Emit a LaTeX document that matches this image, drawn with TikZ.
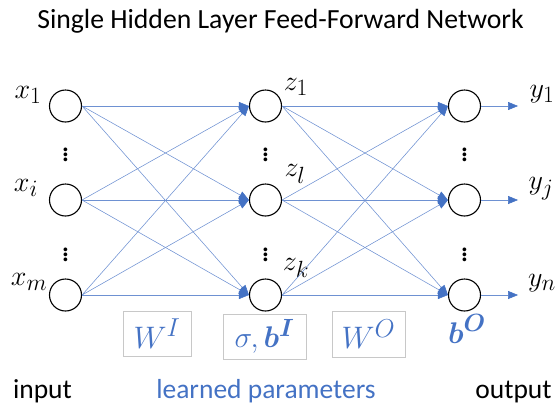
\documentclass[tikz,border=0pt]{standalone}
\usepackage{amsmath}
\usepackage{graphicx}
\usepackage{fontspec}
\setmainfont{Carlito}
\usetikzlibrary{arrows.meta,calc}
\definecolor{bl}{RGB}{68,114,196}
\definecolor{ln}{RGB}{110,145,210}
\definecolor{boxg}{RGB}{200,200,200}
\newcommand\mlab[2]{\scalebox{#1}{$#2$}}
\begin{document}
\begin{tikzpicture}[x=1pt,y=-1pt,
  neuron/.style={circle,draw=black,line width=1.1pt,minimum size=32pt,inner sep=0pt},
  conn/.style={draw=ln,line width=0.55pt,-{Triangle[length=10pt,width=8pt,fill=bl,color=bl]}},
  lab/.style={font=\fontsize{24.88}{27}\selectfont,inner sep=1pt},
  dots/.style={font=\fontsize{24.88}{26}\selectfont,inner sep=0pt},
  pbox/.style={draw=boxg,line width=0.9pt,text=bl,font=\fontsize{24.88}{27}\selectfont},
  txt/.style={font=\fontsize{27.5}{30}\selectfont,anchor=base}]
\useasboundingbox (0,0) rectangle (556,405);
\node[font=\fontsize{27.7}{30}\selectfont,anchor=base] (title) at (280.5,28) {Single Hidden Layer Feed-Forward Network};
% neurons
\foreach \c/\x in {i/65.5,h/265.5,o/464.5}{
  \node[neuron] (\c1) at (\x,106) {};
  \node[neuron] (\c2) at (\x,200) {};
  \node[neuron] (\c3) at (\x,295) {};
  \node[dots] (\c d1) at (\x,151) {\mlab{1.25}{\vdots}};
  \node[dots] (\c d2) at (\x,251) {\mlab{1.25}{\vdots}};
}
% labels
\node[lab] (lx1) at (28,95) {\mlab{1.13}{x_1}};
\node[lab] (lxi) at (26,188) {\mlab{1.13}{x_i}};
\node[lab] (lxm) at (29,282) {\mlab{1.13}{x_m}};
\node[lab] (lz1) at (296,87) {\mlab{1.13}{z_1}};
\node[lab] (lzl) at (295,174) {\mlab{1.13}{z_l}};
\node[lab] (lzk) at (296,268) {\mlab{1.13}{z_k}};
% output arrow ends
\foreach \k in {1,2,3}{
  \coordinate (e\k) at ($(o\k.east)+(37,0)$);
}
\node[lab] (ly1) at (542,94) {\mlab{1.13}{y_1}};
\node[lab] (lyj) at (541,189) {\mlab{1.13}{y_j}};
\node[lab] (lyn) at (542,283) {\mlab{1.13}{y_n}};
% connections
\foreach \a in {1,2,3}{
  \foreach \b in {1,2,3}{
    \draw[conn] (i\a.east) -- (h\b.west);
    \draw[conn] (h\a.east) -- (o\b.west);
  }
  \draw[conn] (o\a.east) -- (e\a);
}
% parameter boxes
\node[pbox,minimum width=68pt,minimum height=45pt] (wi) at (157,333.5) {\mlab{1.25}{W^{I}}};
\node[pbox,minimum width=83pt,minimum height=45pt] (sb) at (264.5,336.5) {\mlab{1.2}{\sigma,\boldsymbol{b}^{\boldsymbol{I}}}};
\node[pbox,minimum width=73pt,minimum height=46pt] (wo) at (368.5,334) {\mlab{1.25}{W^{O}}};
\node[text=bl,font=\fontsize{24.88}{27}\selectfont] (bo) at (467,329) {\mlab{1.2}{\boldsymbol{b}^{\boldsymbol{O}}}};
% bottom texts
\node[txt] (tin) at (42.5,398) {input};
\node[txt,text=bl] (tlp) at (266,398) {learned parameters};
\node[txt] (tout) at (513.5,398) {output};
\end{tikzpicture}
\end{document}
